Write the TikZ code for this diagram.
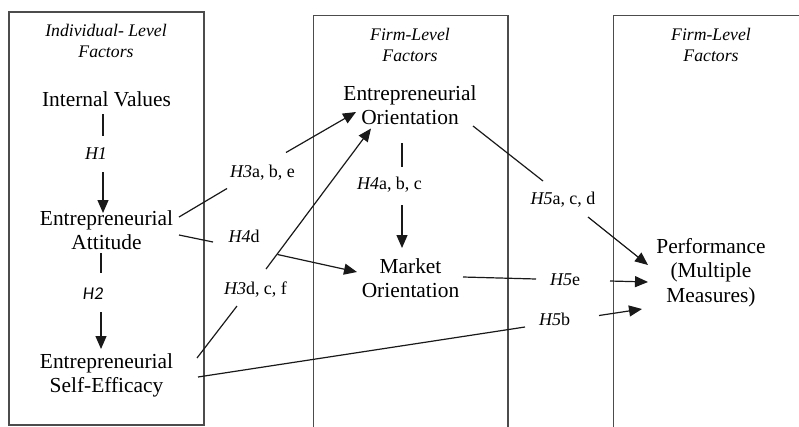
\documentclass[tikz,border=0pt]{standalone}
\usepackage{fontspec}
\setmainfont{Liberation Serif}
\newfontfamily\hsans{Carlito}
\usetikzlibrary{arrows.meta}
\tikzset{
  main/.style={inner sep=0pt, anchor=base, font=\fontsize{21.4}{24.7}\selectfont},
  ttl/.style={inner sep=0pt, anchor=base, font=\fontsize{17.7}{20.5}\selectfont\itshape},
  hyp/.style={inner sep=0pt, anchor=base, font=\fontsize{18}{20}\selectfont},
  panel/.style={draw=black!70, line width=1.3pt},
  con/.style={line width=1.2pt, black!90},
  arr/.style={con, -{Triangle[length=13pt,width=11pt]}}
}
\newcommand{\twol}[2]{\begin{tabular}[t]{@{}c@{}}#1\\#2\end{tabular}}
\newcommand{\threel}[3]{\begin{tabular}[t]{@{}c@{}}#1\\#2\\#3\end{tabular}}
\begin{document}
\begin{tikzpicture}[x=1pt,y=-1pt]
\useasboundingbox (0,0) rectangle (799,426);
\begin{scope}
\clip (0,0) rectangle (799,426);
\draw[panel] (9,12) rectangle (204,425);
\draw[panel] (313.5,15.5) rectangle (508,440);
\draw[panel] (613.5,15.5) rectangle (830,440);
\end{scope}
% titles
\node[ttl] (t1) at (106,36.7) {\twol{Individual- Level}{Factors}};
\node[ttl] (t2) at (410,40.5) {\twol{Firm-Level}{Factors}};
\node[ttl] (t3) at (711,40.5) {\twol{Firm-Level}{Factors}};
% main nodes
\node[main] (iv) at (106.5,106) {Internal Values};
\node[main] (att) at (106.5,225) {\twol{Entrepreneurial}{Attitude}};
\node[main] (ese) at (106.5,368) {\twol{Entrepreneurial}{Self-Efficacy}};
\node[main] (eo) at (410,100) {\twol{Entrepreneurial}{Orientation}};
\node[main] (mo) at (410.5,273) {\twol{Market}{Orientation}};
\node[main] (perf) at (711,253) {\threel{Performance}{(Multiple}{Measures)}};
% hypothesis labels
\node[hyp] (h1) at (96,159) {\textit{H1}};
\node[hyp] (h2) at (93,299) {\hsans\itshape H2};
\node[hyp] (h3a) at (262.5,177) {\textit{H3}a, b, e};
\node[hyp] (h4d) at (244,242) {\textit{H4}d};
\node[hyp] (h3d) at (255.5,294) {\textit{H3}d, c, f};
\node[hyp] (h4a) at (389.5,189) {\textit{H4}a, b, c};
\node[hyp] (h5a) at (563,204) {\textit{H5}a, c, d};
\node[hyp] (h5e) at (565,285) {\textit{H5}e};
\node[hyp] (h5b) at (554.5,325) {\textit{H5}b};
% connector end points
\coordinate (iv-s) at (103,114);   \coordinate (h1-n) at (103,136);
\coordinate (h1-s) at (103,172);   \coordinate (att-n) at (103,213);
\coordinate (att-s) at (101,253);  \coordinate (h2-n) at (101,273);
\coordinate (h2-s) at (101,312);   \coordinate (ese-n) at (101,349);
\coordinate (att-e1) at (179,217); \coordinate (h3a-w) at (227,188.5);
\coordinate (h3a-e) at (286,152.5);\coordinate (eo-w1) at (356,112);
\coordinate (att-e2) at (179,235); \coordinate (h4d-w) at (213,242);
\coordinate (h4d-e) at (277.5,254.5); \coordinate (mo-w) at (357,272);
\coordinate (ese-e1) at (197,358); \coordinate (h3d-s) at (237,306);
\coordinate (h3d-n) at (266,269); \coordinate (eo-sw) at (371,128.5);
\coordinate (eo-s) at (402,143);   \coordinate (h4a-n) at (402,167);
\coordinate (h4a-s) at (402,205);  \coordinate (mo-n) at (402,248);
\coordinate (eo-e) at (473,126);   \coordinate (h5a-n) at (543,181);
\coordinate (h5a-s) at (588,217);  \coordinate (perf-nw) at (648,265);
\coordinate (mo-e) at (463,277);   \coordinate (h5e-w) at (536,279);
\coordinate (h5e-e) at (610,281);  \coordinate (perf-w) at (648,282);
\coordinate (ese-e2) at (198,377); \coordinate (h5b-w) at (525,327);
\coordinate (h5b-e) at (599,315.5);\coordinate (perf-sw) at (642,309);
% connectors
\draw[con] (iv-s) -- (h1-n);   \draw[arr] (h1-s) -- (att-n);
\draw[con] (att-s) -- (h2-n);  \draw[arr] (h2-s) -- (ese-n);
\draw[con] (att-e1) -- (h3a-w); \draw[arr] (h3a-e) -- (eo-w1);
\draw[con] (att-e2) -- (h4d-w); \draw[arr] (h4d-e) -- (mo-w);
\draw[con] (ese-e1) -- (h3d-s); \draw[arr] (h3d-n) -- (eo-sw);
\draw[con] (eo-s) -- (h4a-n);  \draw[arr] (h4a-s) -- (mo-n);
\draw[con] (eo-e) -- (h5a-n);  \draw[arr] (h5a-s) -- (perf-nw);
\draw[con] (mo-e) -- (h5e-w);  \draw[arr] (h5e-e) -- (perf-w);
\draw[con] (ese-e2) -- (h5b-w); \draw[arr] (h5b-e) -- (perf-sw);
\end{tikzpicture}
\end{document}
